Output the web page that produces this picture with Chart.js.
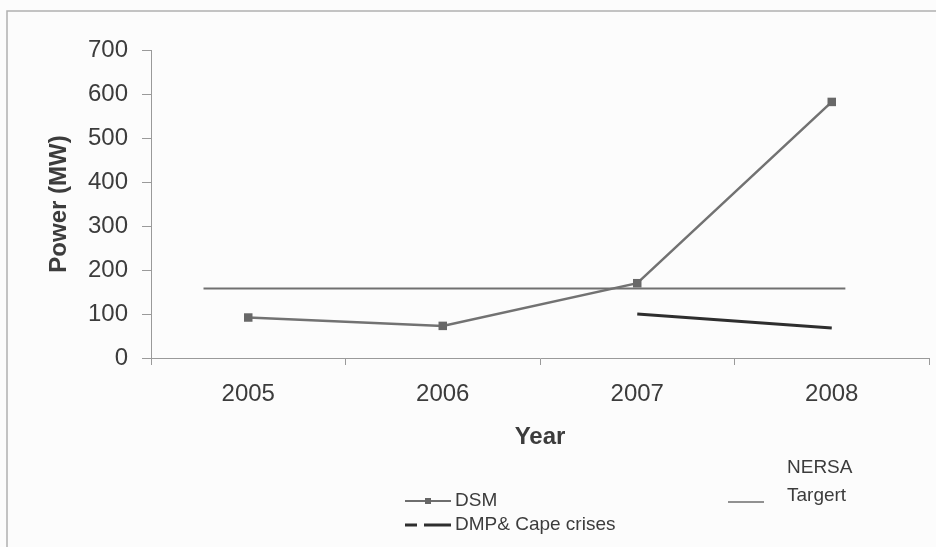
<!DOCTYPE html>
<html>
<head>
<meta charset="utf-8">
<script src="https://cdn.jsdelivr.net/npm/chart.js@4.4.1/dist/chart.umd.min.js"></script>
<style>
    html, body { margin: 0; padding: 0; background: #fcfcfc; }
    canvas { display: block; }
</style>
</head>
<body>
<canvas id="powerChart" width="936" height="547"></canvas>
<script>
const years = ["2005", "2006", "2007", "2008"];
const dsmValues = [92, 73, 170, 582];
const dmpValues = [null, null, 100, 68];
// target line runs past the first/last category, so it sits on a hidden linear axis (category index units)
const targetX = [-0.23, 3.07];
const targetY = [158, 158];
const seriesNames = ["DSM", "DMP& Cape crises", "NERSA Targert"];

const FONT = "'Liberation Sans', Arial, sans-serif";
const TEXT = "#3c3c3c";

// Excel-style legend below the axis + the chart area frame
const sketchLegend = {
    id: "sketchLegend",
    afterDraw(chart) {
        const ctx = chart.ctx;
        ctx.save();

        ctx.strokeStyle = "#b0b0b0";
        ctx.lineWidth = 1.5;
        ctx.strokeRect(7, 11, 1200, 1200);

        ctx.font = "19px " + FONT;
        ctx.fillStyle = TEXT;
        ctx.textBaseline = "middle";

        // DSM: line with square marker
        ctx.strokeStyle = "#6e6e6e";
        ctx.lineWidth = 2;
        ctx.beginPath();
        ctx.moveTo(405, 501);
        ctx.lineTo(451, 501);
        ctx.stroke();
        ctx.fillStyle = "#666";
        ctx.fillRect(425, 498, 6, 6);
        ctx.fillStyle = TEXT;
        ctx.fillText(seriesNames[0], 455, 501);

        // DMP: dashed dark line
        ctx.strokeStyle = "#2e2e2e";
        ctx.lineWidth = 3;
        ctx.beginPath();
        ctx.moveTo(405, 525);
        ctx.lineTo(417, 525);
        ctx.moveTo(424, 525);
        ctx.lineTo(451, 525);
        ctx.stroke();
        ctx.fillText(seriesNames[1], 455, 525);

        // target: thin line, name wrapped on two rows
        ctx.strokeStyle = "#6e6e6e";
        ctx.lineWidth = 1.5;
        ctx.beginPath();
        ctx.moveTo(728, 502);
        ctx.lineTo(764, 502);
        ctx.stroke();
        const parts = seriesNames[2].split(" ");
        ctx.fillText(parts[0], 787, 468);
        ctx.fillText(parts[1], 787, 496);

        ctx.restore();
    }
};

new Chart(document.getElementById("powerChart").getContext("2d"), {
    type: "line",
    data: {
        labels: years,
        datasets: [
            {
                label: seriesNames[0],
                data: dsmValues,
                borderColor: "#727272",
                borderWidth: 2.5,
                pointStyle: "rect",
                pointRadius: 6,
                pointBackgroundColor: "#686868",
                pointBorderWidth: 0,
                tension: 0
            },
            {
                label: seriesNames[1],
                data: dmpValues,
                borderColor: "#2e2e2e",
                borderWidth: 3,
                pointRadius: 0,
                spanGaps: false,
                tension: 0
            },
            {
                label: seriesNames[2],
                xAxisID: "x2",
                data: targetX.map((x, i) => ({ x: x, y: targetY[i] })),
                borderColor: "#707070",
                borderWidth: 2,
                pointRadius: 0,
                tension: 0
            }
        ]
    },
    options: {
        responsive: false,
        animation: false,
        layout: { padding: { top: 50, right: 7, left: 0, bottom: 0 } },
        plugins: {
            legend: { display: false },
            tooltip: { enabled: false }
        },
        scales: {
            x: {
                type: "category",
                offset: true,
                afterFit: (scale) => { scale.height = 189; },
                grid: {
                    offset: true,
                    drawOnChartArea: false,
                    color: "#9a9a9a",
                    tickLength: 7
                },
                border: { color: "#9a9a9a", width: 1 },
                ticks: {
                    color: TEXT,
                    font: { family: FONT, size: 24 },
                    padding: 15,
                    maxRotation: 0
                },
                title: {
                    display: true,
                    text: "Year",
                    color: TEXT,
                    font: { family: FONT, size: 24, weight: "bold" },
                    padding: { top: 0, bottom: 95 }
                }
            },
            x2: {
                type: "linear",
                display: false,
                min: -0.5,
                max: 3.5
            },
            y: {
                min: 0,
                max: 700,
                afterFit: (scale) => { scale.width = 151; },
                grid: {
                    drawOnChartArea: false,
                    color: "#9a9a9a",
                    tickLength: 9
                },
                border: { color: "#9a9a9a", width: 1 },
                ticks: {
                    stepSize: 100,
                    color: TEXT,
                    font: { family: FONT, size: 24 },
                    padding: 14
                },
                title: {
                    display: true,
                    text: "Power (MW)",
                    color: TEXT,
                    font: { family: FONT, size: 24, weight: "bold" },
                    padding: { top: 45, bottom: 0 }
                }
            }
        }
    },
    plugins: [sketchLegend]
});
</script>
</body>
</html>
